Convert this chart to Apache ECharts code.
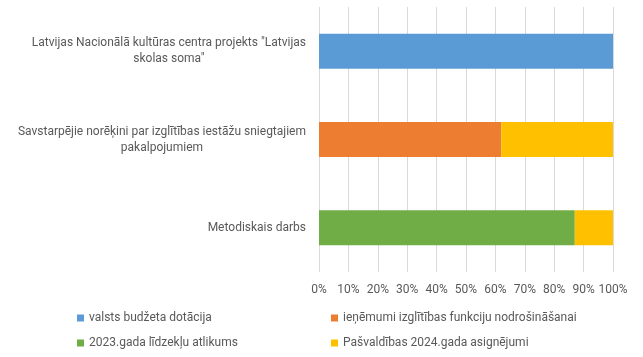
<!DOCTYPE html>
<html>
<head>
<meta charset="utf-8">
<script src="https://cdn.jsdelivr.net/npm/echarts@6/dist/echarts.min.js"></script>
<style>html,body{margin:0;padding:0;background:#fff;}#c{width:643px;height:357px;}</style>
</head>
<body>
<div id="c"></div>
<script>
const categories = [
  'Latvijas Nacionālā kultūras centra projekts "Latvijas\nskolas soma"',
  'Savstarpējie norēķini par izglītības iestāžu sniegtajiem\npakalpojumiem',
  'Metodiskais darbs'
];
const seriesNames = [
  'valsts budžeta dotācija',
  'ieņēmumi izglītības funkciju nodrošināšanai',
  '2023.gada līdzekļu atlikums',
  'Pašvaldības 2024.gada asignējumi'
];
const valsts = [100, 0, 0];
const ienemumi = [0, 62, 0];
const atlikums = [0, 0, 87];
const pasvaldibas = [0, 38, 13];
const xTicks = [0, 10, 20, 30, 40, 50, 60, 70, 80, 90, 100];

const colors = ['#5B9BD5', '#ED7D31', '#70AD47', '#FFC000'];
const FONT = 'Roboto';
const chart = echarts.init(document.getElementById('c'), null, {renderer: 'canvas'});
const allData = [valsts, ienemumi, atlikums, pasvaldibas];
const legendText = {color: '#595959', fontSize: 12, fontFamily: FONT, lineHeight: 14};
chart.setOption({
  animation: false,
  color: colors,
  grid: {left: 319, right: 30, top: 7, bottom: 85, containLabel: false},
  xAxis: {
    type: 'value', min: xTicks[0], max: xTicks[xTicks.length - 1], interval: 10,
    axisLine: {show: false}, axisTick: {show: false},
    splitLine: {lineStyle: {color: '#D9D9D9', width: 1}},
    axisLabel: {formatter: '{value}%', color: '#595959', fontSize: 12, fontFamily: FONT, margin: 12}
  },
  yAxis: {
    type: 'category', data: categories, inverse: true,
    axisLine: {show: false}, axisTick: {show: false},
    axisLabel: {
      align: 'right', margin: 13,
      formatter: v => v.split('\n').map(l => '{c|' + l + '}').join('\n'),
      rich: {c: {align: 'center', color: '#595959', fontSize: 12, fontFamily: FONT, lineHeight: 16}}
    }
  },
  legend: [
    {orient: 'vertical', left: 72, top: 306, itemWidth: 7, itemHeight: 7, itemGap: 11, icon: 'rect',
     data: [seriesNames[0], seriesNames[2]], textStyle: legendText},
    {orient: 'vertical', left: 326, top: 306, itemWidth: 7, itemHeight: 7, itemGap: 11, icon: 'rect',
     data: [seriesNames[1], seriesNames[3]], textStyle: legendText}
  ],
  series: seriesNames.map((n, i) => ({
    name: n, type: 'bar', stack: 'total', data: allData[i], barWidth: 35
  }))
});
</script>
</body>
</html>
